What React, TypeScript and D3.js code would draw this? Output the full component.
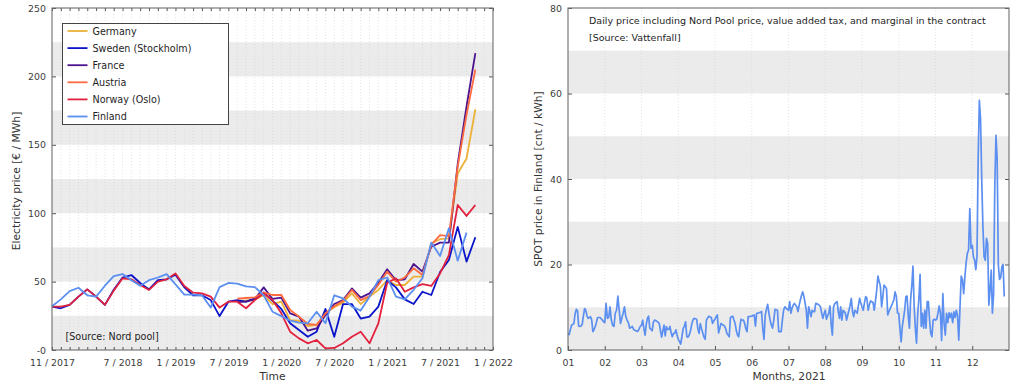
import { useEffect, useRef } from 'react'
import * as d3 from 'd3'

// ---- left chart: monthly spot prices [€ / MWh], 11/2017 .. 11/2021 (49 months)
const _ = null
const germany = [_, _, _, _, _, _, _, _, _, _, _, _, _, _, _, _, _, _, _, _, _,
  36, 36, 37, 40, 33.6, 35.3, 21.9, 21.4, 17.5, 18.3, 26.8, 31.2, 34.6, 41.4, 33.6, 39, 43.9, 51, 47.5, 47.5,
  53.6, 53.6, 78, 81, 81.6, 129, 140, 176]
const sweden = [31.7, 30.5, 33, 39, 44.3, 39, 33, 44, 53, 54.8, 49, 44.3, 51, 51.7, 55, 45.8, 40, 40, 36.5, 24.8,
  35.3, 36.5, 35.3, 37.8, 42, 36, 30, 19.5, 14.6, 9.7, 13.4, 30, 9.7, 33.6, 33.6, 23, 24.4, 31.7, 51, 45.8,
  37, 33.6, 42.6, 40.2, 57, 65.8, 90, 64.6, 82.4]
const france = [_, _, _, _, _, _, _, _, _, _, _, _, _, _, _, _, _, _, _, _, _,
  35, 35.3, 37, 45.8, 37.3, 38.3, 26.8, 24.4, 14.1, 15.8, 25.6, 33.6, 36.5, 45, 38.3, 41.4, 49.2, 59, 51, 51.7,
  62.9, 57.3, 75.5, 78.5, 78.5, 136, 178, 217]
const austria = [_, _, _, _, _, _, _, _, _, _, _, _, _, _, _, _, _, _, _, _, _,
  37.5, 38, 38.5, 42, 40.2, 40.2, 29.2, 24.4, 19, 18.3, 26.8, 32, 36, 43.9, 36.5, 39.5, 47.5, 57.3, 50, 53,
  59.7, 54.8, 76.8, 84, 83.3, 134, 172, 205]
const norway = [31.7, 31.7, 33, 39, 44.3, 39, 33, 43.4, 52.4, 51.7, 47.5, 43.9, 50, 51.7, 56, 46.8, 41.9, 41.4, 39, 31,
  35.3, 35.3, 30.5, 36.5, 41.4, 36.5, 26.8, 13.4, 8.5, 4.9, 7.3, 1.2, 1.5, 4.9, 9.7, 13.4, 4.9, 19.5, 49, 52.4,
  42.6, 45.8, 48.2, 46.8, 56, 69.4, 106, 98, 106]
const finland = [32, 37, 43, 45.5, 40, 39, 47, 54, 55.5, 51, 47, 51, 53, 55.5, 48, 40.5, 40.5, 40, 31, 46,
  49, 48.5, 46.5, 46, 40, 28, 24.8, 21.4, 20, 19.5, 28, 19.5, 40, 37.8, 31.7, 28.8, 39, 51, 53, 39,
  37, 44, 52.4, 78.5, 68.7, 89, 65.3, 85.8, _]

const countries = ['Germany', 'Sweden (Stockholm)', 'France', 'Austria', 'Norway (Oslo)', 'Finland']
const countrySeries = [germany, sweden, france, austria, norway, finland]
const countryColors = ['#ecb138', '#0b14c9', '#4c138f', '#ff6a40', '#e2213d', '#5b8ff0']

// month index 0 = 11/2017, 50 = 1/2022
const leftTickIdx = [0, 8, 14, 20, 26, 32, 38, 44, 50]
const leftTickLabels = ['11 / 2017', '7 / 2018', '1 / 2019', '7 / 2019', '1 / 2020', '7 / 2020', '1 / 2021', '7 / 2021', '1 / 2022']
const leftYTicks = [0, 50, 100, 150, 200, 250]
const leftYLabels = ['-0', '50', '100', '150', '200', '250']

// ---- right chart: daily SPOT price in Finland 2021 [cnt / kWh]
const spotJan = [3.9, 3.6, 4.8, 5.8, 6.0, 6.2, 8.5, 9.5, 9.2, 5.6, 5.5, 5.6, 6.0, 8.0, 9.7, 9.3, 8.0, 7.4, 7.6, 7.8,
  7.0, 4.3, 4.8, 5.5, 6.5, 7.6, 7.6, 7.6, 7.3, 7.0, 6.6]
const spotFeb = [6.4, 10.9, 7.4, 7.6, 10.1, 7.0, 5.8, 5.5, 8.6, 9.3, 12.6, 9.3, 6.2, 7.5, 8.6, 10.1, 7.9, 7.0, 6.4, 5.1,
  5.3, 5.5, 4.8, 4.6, 4.5, 4.3, 4.8, 5.5]
const spotMar = [5.8, 7.0, 5.0, 3.5, 6.0, 7.4, 7.9, 5.1, 4.8, 4.5, 6.5, 7.0, 6.9, 6.7, 6.5, 6.2, 4.5, 3.0, 4.5, 5.8,
  3.3, 5.5, 4.8, 4.8, 5.5, 4.0, 3.1, 3.9, 3.9, 4.7, 3.5]
const spotApr = [2.5, 2.0, 1.4, 3.1, 5.0, 5.6, 6.6, 3.1, 3.0, 3.5, 4.5, 6.0, 7.0, 7.4, 7.3, 7.2, 5.0, 3.9, 6.2, 5.0,
  4.0, 3.0, 2.5, 7.0, 7.5, 7.9, 7.7, 7.6, 6.2, 6.8]
const spotMay = [7.2, 7.8, 8.2, 4.0, 5.0, 6.2, 6.0, 5.8, 5.6, 5.0, 3.9, 3.5, 3.1, 7.6, 7.8, 7.9, 7.0, 6.2, 4.5, 3.5,
  3.1, 5.5, 7.2, 7.0, 7.0, 6.2, 5.0, 4.3, 7.8, 7.8, 7.9]
const spotJun = [7.9, 8.1, 8.2, 5.6, 8.6, 8.6, 8.7, 8.8, 9.0, 5.0, 2.5, 8.2, 9.5, 10.7, 8.6, 7.0, 5.8, 5.1, 7.0, 9.5,
  9.4, 9.3, 4.3, 4.3, 4.3, 7.0, 9.3, 10.1, 9.8, 9.5]
const spotJul = [9.3, 11.3, 8.6, 9.8, 10.5, 10.9, 10.5, 10.1, 9.0, 10.5, 11.7, 12.8, 13.6, 12.5, 11.0, 9.3, 5.1, 10.1, 9.0, 7.8,
  9.3, 9.0, 9.0, 10.9, 10.8, 10.7, 10.4, 10.1, 8.6, 7.4, 8.5]
const spotAug = [9.3, 7.2, 8.0, 8.6, 10.3, 6.0, 3.5, 10.1, 10.8, 11.1, 11.3, 9.0, 7.4, 10.1, 7.0, 9.3, 9.0, 8.6, 7.0, 8.2,
  9.3, 10.5, 12.1, 9.0, 7.8, 9.3, 9.0, 8.6, 10.5, 12.1, 11.0]
const spotSep = [10.1, 9.3, 11.0, 12.5, 12.1, 9.3, 10.5, 11.5, 11.3, 11.1, 9.3, 11.5, 14.0, 17.3, 16.0, 15.0, 10.1, 12.5, 15.2, 14.8,
  14.4, 8.2, 9.0, 9.7, 10.3, 11.0, 11.7, 13.6, 12.6, 8.6]
const spotOct = [8.6, 5.0, 1.9, 5.5, 7.4, 9.3, 12.5, 12.6, 8.0, 5.1, 11.7, 15.0, 19.6, 10.1, 5.0, 1.6, 8.6, 12.0, 17.7, 5.5,
  8.6, 5.1, 9.3, 5.1, 11.3, 11.3, 7.0, 3.9, 3.1, 7.0, 7.2]
const spotNov = [7.0, 7.2, 8.6, 10.3, 8.6, 2.2, 13.2, 6.2, 3.5, 8.6, 6.4, 8.7, 7.6, 8.6, 6.4, 8.9, 7.6, 9.3, 8.0, 2.3,
  10.0, 17.3, 16.5, 13.2, 17.1, 20.4, 22.6, 23.4, 33.1, 23.8]
const spotDec = [24.5, 21.8, 21.0, 18.8, 22.0, 45.0, 58.4, 54.0, 40.0, 28.8, 21.8, 21.0, 26.1, 24.9, 10.5, 14.0, 18.7, 8.6, 13.0, 38.0,
  50.2, 45.0, 20.0, 16.5, 17.0, 19.5, 20.0, 12.5]
const spotByMonth = [spotJan, spotFeb, spotMar, spotApr, spotMay, spotJun, spotJul, spotAug, spotSep, spotOct, spotNov, spotDec]

const monthLabels = ['01', '02', '03', '04', '05', '06', '07', '08', '09', '10', '11', '12']
const rightYTicks = [0, 20, 40, 60, 80]

const FONT = 'DejaVu Sans'

const App = () => {
  const svgRef = useRef(null)

  useEffect(() => {
    document.body.style.margin = '0'
    const svg = d3.select(svgRef.current)
    svg.selectAll('*').remove()

    const frame = (g, x0, x1, y0, y1) =>
      g.append('rect').attr('x', x0).attr('y', y0).attr('width', x1 - x0).attr('height', y1 - y0)
        .attr('fill', 'none').attr('stroke', '#6e6e6e').attr('stroke-width', 1.1)

    const styleAxis = (g) => {
      g.select('.domain').remove()
      g.selectAll('.tick line').attr('stroke', '#555')
      g.selectAll('.tick text').attr('fill', '#3c3c3c').style('font-family', FONT).style('font-size', '9.4px')
    }

    const bands = (g, xs, ys, step) => {
      const [lo, hi] = ys.domain()
      d3.range(lo, hi, step * 2).forEach((b) => {
        g.append('rect').attr('x', xs.range()[0]).attr('width', xs.range()[1] - xs.range()[0])
          .attr('y', ys(b + step)).attr('height', ys(b) - ys(b + step)).attr('fill', '#ebebeb')
      })
    }

    // ================= left chart
    const L = { x0: 52, x1: 493, y0: 8, y1: 350 }
    const xL = d3.scaleLinear([0, 50], [L.x0, L.x1])
    const yL = d3.scaleLinear([0, 250], [L.y1, L.y0])
    const gL = svg.append('g')

    bands(gL, xL, yL, 25)
    d3.range(1, 50).forEach((i) => {
      gL.append('line').attr('x1', xL(i)).attr('x2', xL(i)).attr('y1', L.y0).attr('y2', L.y1)
        .attr('stroke', '#d2d2d2').attr('stroke-width', 0.6).attr('stroke-dasharray', '1,2')
    })

    // minor monthly ticks, bottom and top
    gL.append('g').attr('transform', `translate(0,${L.y1})`)
      .call(d3.axisBottom(xL).tickValues(d3.range(0, 51)).tickSizeInner(-3).tickSizeOuter(0).tickFormat(() => ''))
      .call(styleAxis)
    gL.append('g').attr('transform', `translate(0,${L.y0})`)
      .call(d3.axisTop(xL).tickValues(d3.range(0, 51)).tickSizeInner(-3).tickSizeOuter(0).tickFormat(() => ''))
      .call(styleAxis)
    gL.append('g').attr('transform', `translate(0,${L.y1})`)
      .call(d3.axisBottom(xL).tickValues(leftTickIdx).tickSize(0).tickPadding(9)
        .tickFormat((d, i) => leftTickLabels[i]))
      .call(styleAxis)
    gL.append('g').attr('transform', `translate(${L.x0},0)`)
      .call(d3.axisLeft(yL).tickValues(leftYTicks).tickSizeInner(-4).tickSizeOuter(0).tickPadding(6)
        .tickFormat((d, i) => leftYLabels[i]))
      .call(styleAxis)
    gL.append('g').attr('transform', `translate(${L.x1},0)`)
      .call(d3.axisRight(yL).tickValues(leftYTicks).tickSizeInner(-4).tickSizeOuter(0).tickFormat(() => ''))
      .call(styleAxis)

    const lineL = d3.line().defined((d) => d != null).x((d, i) => xL(i)).y((d) => yL(d))
    countrySeries.forEach((s, k) => {
      gL.append('path').datum(s).attr('d', lineL).attr('fill', 'none')
        .attr('stroke', countryColors[k]).attr('stroke-width', 1.8).attr('stroke-linejoin', 'round')
    })
    frame(gL, L.x0, L.x1, L.y0, L.y1)

    // legend
    const lg = gL.append('g')
    lg.append('rect').attr('x', 62.5).attr('y', 23.5).attr('width', 166).attr('height', 101)
      .attr('fill', '#fff').attr('stroke', '#444').attr('stroke-width', 1)
    countries.forEach((c, k) => {
      const cy = 31 + k * 17.1
      lg.append('line').attr('x1', 67.5).attr('x2', 87.5).attr('y1', cy).attr('y2', cy)
        .attr('stroke', countryColors[k]).attr('stroke-width', 1.8)
      lg.append('text').attr('x', 92.5).attr('y', cy + 3.5).text(c)
        .style('font-family', FONT).style('font-size', '9.6px').attr('fill', '#1e1e1e')
    })

    gL.append('text').attr('x', 65.5).attr('y', 339.5).text('[Source: Nord pool]')
      .style('font-family', FONT).style('font-size', '9.6px').attr('fill', '#1e1e1e')
    gL.append('text').attr('x', (L.x0 + L.x1) / 2).attr('y', 380).attr('text-anchor', 'middle').text('Time')
      .style('font-family', FONT).style('font-size', '10.7px').attr('fill', '#333')
    gL.append('text').attr('transform', `translate(20,${(L.y0 + L.y1) / 2 + 2}) rotate(-90)`)
      .attr('text-anchor', 'middle').text('Electricity price [€ / MWh]')
      .style('font-family', FONT).style('font-size', '10.7px').attr('fill', '#333')

    // ================= right chart
    const R = { x0: 568, x1: 1009, y0: 8, y1: 350 }
    const xR = d3.scaleLinear([1, 13], [R.x0, R.x1])
    const yR = d3.scaleLinear([0, 80], [R.y1, R.y0])
    const gR = svg.append('g')

    bands(gR, xR, yR, 10)
    d3.range(2, 13).forEach((m) => {
      gR.append('line').attr('x1', xR(m)).attr('x2', xR(m)).attr('y1', R.y0).attr('y2', R.y1)
        .attr('stroke', '#d2d2d2').attr('stroke-width', 0.6).attr('stroke-dasharray', '1,2')
    })

    gR.append('g').attr('transform', `translate(0,${R.y1})`)
      .call(d3.axisBottom(xR).tickValues(d3.range(1, 13)).tickSizeInner(-4).tickSizeOuter(0).tickPadding(9)
        .tickFormat((d, i) => monthLabels[i]))
      .call(styleAxis)
    gR.append('g').attr('transform', `translate(${R.x0},0)`)
      .call(d3.axisLeft(yR).tickValues(rightYTicks).tickSizeInner(-4).tickSizeOuter(0).tickPadding(6))
      .call(styleAxis)
    gR.append('g').attr('transform', `translate(${R.x1},0)`)
      .call(d3.axisRight(yR).tickValues(rightYTicks).tickSizeInner(-4).tickSizeOuter(0).tickFormat(() => ''))
      .call(styleAxis)

    const spotPoints = spotByMonth.flatMap((arr, m) => {
      const days = new Date(2021, m + 1, 0).getDate()
      return arr.map((v, i) => [m + 1 + i / days, v])
    })
    const lineR = d3.line().x((d) => xR(d[0])).y((d) => yR(d[1]))
    gR.append('path').datum(spotPoints).attr('d', lineR).attr('fill', 'none')
      .attr('stroke', '#5b8ff0').attr('stroke-width', 1.7).attr('stroke-linejoin', 'round')
    frame(gR, R.x0, R.x1, R.y0, R.y1)

    gR.append('text').attr('x', 589).attr('y', 24).text('Daily price including Nord Pool price, value added tax, and marginal in the contract')
      .style('font-family', FONT).style('font-size', '9.5px').attr('fill', '#1e1e1e')
    gR.append('text').attr('x', 589).attr('y', 40.5).text('[Source: Vattenfall]')
      .style('font-family', FONT).style('font-size', '9.5px').attr('fill', '#1e1e1e')
    gR.append('text').attr('x', 789).attr('y', 380).attr('text-anchor', 'middle').text('Months, 2021')
      .style('font-family', FONT).style('font-size', '10.7px').attr('fill', '#333')
    gR.append('text').attr('transform', `translate(542,${(R.y0 + R.y1) / 2}) rotate(-90)`)
      .attr('text-anchor', 'middle').text('SPOT price in Finland [cnt / kWh]')
      .style('font-family', FONT).style('font-size', '10.7px').attr('fill', '#333')
  }, [])

  return <svg ref={svgRef} width={1024} height={389} style={{ display: 'block', background: '#fff' }} />
}

export default App
